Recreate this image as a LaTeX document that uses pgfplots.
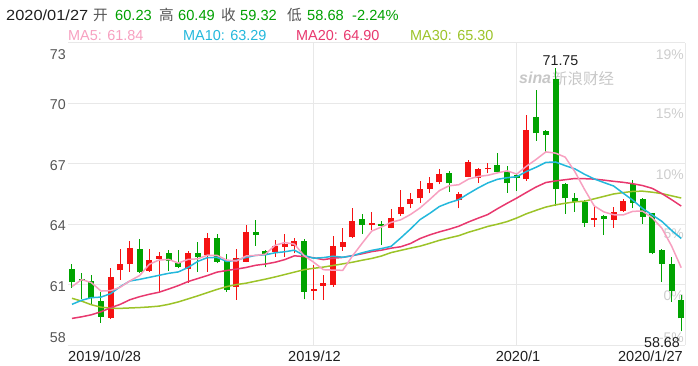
\documentclass[border=0pt]{standalone}
\usepackage{pgfplots}
\pgfplotsset{compat=1.18}
\usepackage{pgfplotstable}
\usepackage{fontspec}
\setmainfont{Liberation Sans}
\newfontfamily\cjk{Noto Sans CJK SC}
\definecolor{kred}{RGB}{245,18,18}
\definecolor{kgreen}{RGB}{0,163,0}
\definecolor{tgreen}{RGB}{0,160,0}
\definecolor{mafive}{RGB}{247,160,192}
\definecolor{maten}{RGB}{36,184,220}
\definecolor{matwenty}{RGB}{232,56,110}
\definecolor{mathirty}{RGB}{156,195,40}
\definecolor{gridc}{RGB}{232,232,232}
\definecolor{tickc}{RGB}{85,85,85}
\definecolor{pctc}{RGB}{205,205,205}
\definecolor{darkt}{RGB}{30,30,30}

\pgfplotstableread{
i o c h l
4 59.36 61.39 61.84 59.29
5 61.71 62.01 62.77 61.23
6 62.01 62.80 63.17 61.64
8 61.68 62.22 62.77 61.64
9 62.27 62.44 62.64 60.65
12 61.76 62.55 62.69 61.10
14 62.47 63.33 63.58 61.64
17 60.90 62.30 62.75 60.24
18 62.14 63.60 63.96 62.10
21 62.64 62.92 63.22 62.39
22 62.88 63.02 63.51 62.39
23 62.90 63.18 63.30 62.55
25 60.68 60.78 61.97 60.24
26 60.95 61.06 61.48 60.24
27 60.98 62.93 63.41 60.90
28 62.88 63.13 63.83 62.69
29 63.35 64.18 64.82 63.30
31 63.96 64.08 64.59 63.71
33 63.83 64.29 64.75 63.79
34 64.49 64.84 65.70 64.41
35 65.00 65.24 65.57 64.79
36 65.28 65.73 66.16 65.07
37 65.75 66.06 66.36 65.53
38 66.11 66.49 66.73 65.98
40 65.20 65.50 65.62 64.79
41 66.36 67.11 67.19 66.33
42 66.28 66.73 66.77 66.06
43 66.73 66.78 67.02 66.53
47 66.23 68.68 69.42 66.16
54 64.21 64.32 64.90 63.88
56 64.21 64.59 64.87 63.83
57 64.64 65.13 65.24 64.62
}\redtab

\pgfplotstableread{
i o c h l
0 61.77 61.15 62.01 60.85
1 61.28 61.20 61.56 60.28
2 61.18 60.35 61.48 59.99
3 60.19 59.41 60.65 59.11
7 62.77 61.64 63.26 61.56
10 62.55 62.17 62.72 61.68
11 62.06 61.89 62.72 61.81
13 62.59 62.35 63.13 61.64
15 63.33 62.14 63.51 62.06
16 62.22 60.73 62.52 60.65
19 63.63 63.46 64.21 62.92
20 62.68 62.45 62.72 61.85
24 63.18 60.65 63.25 60.27
30 64.26 63.96 64.49 63.51
32 64.01 63.93 64.18 62.97
39 66.56 66.03 66.66 65.62
44 66.94 66.61 67.52 66.53
45 66.61 66.03 66.89 65.57
46 66.44 66.28 66.56 65.67
48 69.34 68.51 70.67 68.15
49 68.63 68.43 68.68 67.60
50 71.20 65.73 71.75 64.90
51 66.00 65.28 66.06 64.51
52 65.32 65.12 65.57 64.62
53 65.09 64.08 65.20 63.88
55 64.42 64.24 64.46 63.46
58 66.00 65.05 66.20 64.79
59 65.24 64.37 65.32 64.01
60 64.54 62.55 64.57 62.50
61 62.72 62.02 62.75 61.15
62 62.01 60.68 62.35 60.15
63 60.23 59.32 60.49 58.68
}\greentab

\begin{document}
\begin{tikzpicture}
\path[use as bounding box] (0bp,0bp) rectangle (698bp,366bp);

% percent labels (behind the data)
\begin{scope}[every node/.style={font=\fontsize{14}{16}\selectfont, text=pctc, anchor=base east, inner sep=0pt}]
\node at (684bp,306bp) {19\%};
\node at (684bp,247bp) {15\%};
\node at (684bp,186.3bp) {10\%};
\node at (684bp,127.5bp) {5\%};
\node at (684bp,65bp) {0\%};
\node at (684bp,23.3bp) {-5\%};
\end{scope}

% watermark
\node[anchor=base west, inner sep=0pt, text=black!22, font=\fontsize{16}{18}\selectfont\bfseries\itshape] at (519bp,282bp) {sina};
\node[anchor=base west, inner sep=0pt, text=black!22, font=\cjk\fontsize{15.5}{18}\selectfont] at (552bp,281bp) {新浪财经};

\begin{axis}[
  at={(68bp,21bp)}, anchor=south west,
  width=617bp, height=302bp, scale only axis,
  xmin=-0.41, xmax=63.39, ymin=58, ymax=73,
  axis line style={draw=none},
  tick style={draw=none},
  major tick length=0pt,
  xtick={25,46,63.39}, xticklabels={},
  ytick={58,61,64,67,70,73}, yticklabels={},
  grid=major,
  major grid style={draw=gridc, line width=1bp},
  clip=false,
]
% wicks
\addplot[draw=none, mark=none, forget plot,
  error bars/.cd, y dir=plus, y explicit, error mark=none,
  error bar style={draw=kred, line width=1bp}]
  table[x=i, y=l, y error plus expr=\thisrow{h}-\thisrow{l}] {\redtab};
\addplot[draw=none, mark=none, forget plot,
  error bars/.cd, y dir=plus, y explicit, error mark=none,
  error bar style={draw=kgreen, line width=1bp}]
  table[x=i, y=l, y error plus expr=\thisrow{h}-\thisrow{l}] {\greentab};
% bodies
\addplot[draw=none, mark=none, forget plot,
  error bars/.cd, y dir=plus, y explicit, error mark=none,
  error bar style={draw=kred, line width=6bp}]
  table[x=i, y=o, y error plus expr=\thisrow{c}-\thisrow{o}] {\redtab};
\addplot[draw=none, mark=none, forget plot,
  error bars/.cd, y dir=plus, y explicit, error mark=none,
  error bar style={draw=kgreen, line width=6bp}]
  table[x=i, y=c, y error plus expr=\thisrow{o}-\thisrow{c}] {\greentab};

% MA30
\addplot[mathirty, line width=1.5bp, mark=none, line join=round] coordinates {
(0,60.32) (1,60.18) (2,60.00) (3,59.88) (4,59.83) (5,59.82) (6,59.84) (7,59.86) (8,59.89) (9,59.93)
(10,60.02) (11,60.14) (12,60.29) (13,60.44) (14,60.60) (15,60.76) (16,60.90) (17,61.00) (18,61.07) (19,61.17)
(20,61.27) (21,61.38) (22,61.50) (23,61.62) (24,61.74) (25,61.81) (26,61.87) (27,61.95) (28,62.03) (29,62.11)
(30,62.21) (31,62.30) (32,62.42) (33,62.59) (34,62.70) (35,62.81) (36,62.91) (37,63.05) (38,63.20) (39,63.32)
(40,63.43) (41,63.60) (42,63.74) (43,63.89) (44,64.00) (45,64.13) (46,64.31) (47,64.52) (48,64.69) (49,64.85)
(50,64.96) (51,65.04) (52,65.11) (53,65.14) (54,65.26) (55,65.38) (56,65.50) (57,65.57) (58,65.63) (59,65.64)
(60,65.59) (61,65.52) (62,65.41) (63,65.30)};
% MA20
\addplot[matwenty, line width=1.5bp, mark=none, line join=round] coordinates {
(0,59.32) (1,59.40) (2,59.50) (3,59.65) (4,59.85) (5,60.02) (6,60.25) (7,60.40) (8,60.52) (9,60.62)
(10,60.78) (11,60.95) (12,61.15) (13,61.30) (14,61.45) (15,61.62) (16,61.70) (17,61.77) (18,61.85) (19,61.96)
(20,62.02) (21,62.11) (22,62.24) (23,62.43) (24,62.39) (25,62.33) (26,62.24) (27,62.31) (28,62.35) (29,62.44)
(30,62.53) (31,62.64) (32,62.71) (33,62.81) (34,62.88) (35,63.04) (36,63.29) (37,63.47) (38,63.62) (39,63.75)
(40,63.90) (41,64.11) (42,64.30) (43,64.48) (44,64.77) (45,65.04) (46,65.30) (47,65.58) (48,65.85) (49,66.07)
(50,66.15) (51,66.21) (52,66.27) (53,66.26) (54,66.24) (55,66.19) (56,66.13) (57,66.08) (58,66.01) (59,65.92)
(60,65.78) (61,65.52) (62,65.22) (63,64.90)};
% MA10
\addplot[maten, line width=1.5bp, mark=none, line join=round] coordinates {
(0,60.02) (1,60.22) (2,60.35) (3,60.38) (4,60.55) (5,60.90) (6,61.18) (7,61.26) (8,61.36) (9,61.46)
(10,61.56) (11,61.63) (12,61.85) (13,62.15) (14,62.34) (15,62.35) (16,62.15) (17,62.21) (18,62.35) (19,62.45)
(20,62.48) (21,62.58) (22,62.63) (23,62.71) (24,62.45) (25,62.31) (26,62.34) (27,62.41) (28,62.36) (29,62.43)
(30,62.58) (31,62.70) (32,62.79) (33,62.90) (34,63.32) (35,63.76) (36,64.23) (37,64.54) (38,64.88) (39,65.07)
(40,65.22) (41,65.52) (42,65.80) (43,66.05) (44,66.23) (45,66.31) (46,66.36) (47,66.62) (48,66.83) (49,67.07)
(50,67.09) (51,66.91) (52,66.75) (53,66.48) (54,66.25) (55,66.07) (56,65.90) (57,65.54) (58,65.19) (59,64.78)
(60,64.46) (61,64.14) (62,63.69) (63,63.29)};
% MA5
\addplot[mafive, line width=1.5bp, mark=none, line join=round] coordinates {
(0,60.90) (1,61.25) (2,61.10) (3,60.68) (4,60.70) (5,60.87) (6,61.19) (7,61.45) (8,62.01) (9,62.22)
(10,62.25) (11,62.07) (12,62.25) (13,62.28) (14,62.46) (15,62.45) (16,62.22) (17,62.17) (18,62.42) (19,62.45)
(20,62.51) (21,62.95) (22,63.09) (23,63.01) (24,62.44) (25,62.11) (26,61.74) (27,61.72) (28,61.71) (29,62.42)
(30,63.05) (31,63.66) (32,63.86) (33,64.09) (34,64.22) (35,64.48) (36,64.81) (37,65.23) (38,65.67) (39,65.91)
(40,65.96) (41,66.24) (42,66.37) (43,66.43) (44,66.55) (45,66.65) (46,66.49) (47,66.88) (48,67.22) (49,67.59)
(50,67.53) (51,67.33) (52,66.61) (53,65.73) (54,64.91) (55,64.61) (56,64.47) (57,64.46) (58,64.64) (59,64.65)
(60,64.32) (61,63.80) (62,62.92) (63,61.84)};
\end{axis}

% left tick labels
\begin{scope}[every node/.style={font=\fontsize{14.3}{16}\selectfont, text=tickc, anchor=base east, inner sep=0pt}]
\node at (66bp,306bp) {73};
\node at (66bp,256bp) {70};
\node at (66bp,195.5bp) {67};
\node at (66bp,135.5bp) {64};
\node at (66bp,74.5bp) {61};
\node at (66bp,23.5bp) {58};
\end{scope}

% x labels
\begin{scope}[every node/.style={font=\fontsize{14.6}{16}\selectfont, text=darkt, inner sep=0pt}]
\node[anchor=base west] at (68bp,4.5bp) {2019/10/28};
\node[anchor=base] at (314.5bp,4.5bp) {2019/12};
\node[anchor=base] at (518bp,4.5bp) {2020/1};
\node[anchor=base east] at (683bp,4.5bp) {2020/1/27};
\end{scope}

% high / low annotations
\node[anchor=base, inner sep=0pt, text=darkt, font=\fontsize{14.3}{16}\selectfont] at (560.5bp,300bp) {71.75};
\node[anchor=base east, inner sep=0pt, text=darkt, font=\fontsize{14.3}{16}\selectfont] at (680bp,19bp) {58.68};

% header line
\begin{scope}[every node/.style={font=\fontsize{14.7}{17}\selectfont, inner sep=0pt, anchor=base west}]
\node[text=darkt] at (6bp,345.5bp) {\scalebox{1.12}[1]{2020/01/27}};
\node[text=tickc, font=\cjk\fontsize{14.7}{17}\selectfont] at (93bp,345.5bp) {开};
\node[text=tgreen] at (115bp,345.5bp) {60.23};
\node[text=tickc, font=\cjk\fontsize{14.7}{17}\selectfont] at (159bp,345.5bp) {高};
\node[text=tgreen] at (178bp,345.5bp) {60.49};
\node[text=tickc, font=\cjk\fontsize{14.7}{17}\selectfont] at (221bp,345.5bp) {收};
\node[text=tgreen] at (240bp,345.5bp) {59.32};
\node[text=tickc, font=\cjk\fontsize{14.7}{17}\selectfont] at (287bp,345.5bp) {低};
\node[text=tgreen] at (307bp,345.5bp) {58.68};
\node[text=tgreen] at (352bp,345.5bp) {-2.24\%};
\end{scope}

% MA legend line
\begin{scope}[every node/.style={font=\fontsize{14.5}{17}\selectfont, inner sep=0pt, anchor=base west}]
\node[text=mafive] at (68bp,325.8bp) {MA5: 61.84};
\node[text=maten] at (183bp,325.8bp) {MA10: 63.29};
\node[text=matwenty] at (296bp,325.8bp) {MA20: 64.90};
\node[text=mathirty] at (410bp,325.8bp) {MA30: 65.30};
\end{scope}
\end{tikzpicture}
\end{document}
